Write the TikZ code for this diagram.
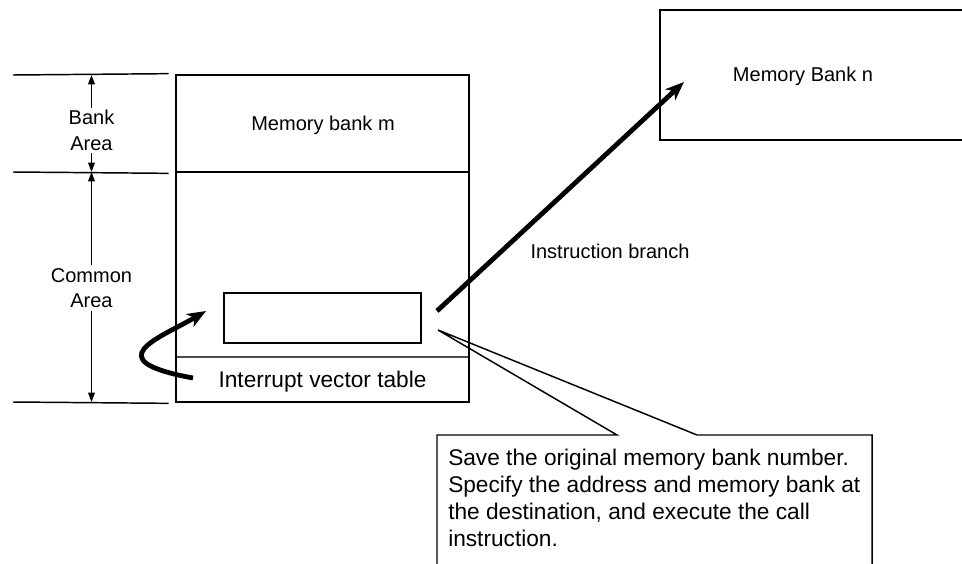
\documentclass[tikz,border=0pt]{standalone}
\usepackage{fontspec}
\setmainfont{Liberation Sans}
\usetikzlibrary{arrows.meta, positioning}
\tikzset
{
    box/.style={draw, line width=2pt, inner sep=0pt}, % outlined memory areas
    dimline/.style={line width=1.1pt},
    dimarrow/.style={-{Triangle[length=7pt,width=5pt]}, line width=1.1pt},
    bigarrow/.style={-{Stealth[length=14pt,width=11pt,inset=4pt]}, line width=3.6pt},
    lbl/.style={font=\fontsize{15}{19}\selectfont, inner sep=0pt},
    dimlbl/.style={font=\fontsize{15}{19}\selectfont, inner sep=2pt, align=center},
}

\begin{document}
\begin{tikzpicture}[x=0.75pt, y=-0.75pt]
    \useasboundingbox (0,0) rectangle (962,563);
    \clip (0,0) rectangle (962,563);

    % memory bank m and common area
    \node[draw, line width=0.8pt, black!70, minimum width=219.75pt, minimum height=33.75pt] (ivt) at (322.5,379.5) {};
    \node[box, minimum width=219.75pt, minimum height=72.75pt] (bankm) at (322.5,123.5) {};
    \node[box, minimum width=219.75pt, minimum height=172.5pt] (common) at (322.5,287) {};
    \node[box, line width=2.2pt, minimum width=147.75pt, minimum height=37.5pt] (vecbox) at (322.5,318) {};
    \node[lbl, anchor=base] (bankmtxt) at (323,131) {Memory bank m};
    \node[lbl, font=\fontsize{17}{21}\selectfont, anchor=base] (ivttxt) at (322.5,387) {Interrupt vector table};

    % memory bank n
    \node[box, line width=1.9pt, minimum width=262.5pt, minimum height=97.5pt] (bankn) at (835,75) {};
    \node[lbl, anchor=base] (banktxtn) at (803,82) {Memory Bank n};

    % dimensions on the left
    \draw[dimline] (13,75) -- ([xshift=-4.5pt]bankm.north west);
    \draw[dimline] (13,172) -- ([xshift=-4.5pt]bankm.south west);
    \draw[dimline] (13,402) -- ([xshift=-4.5pt]common.south west);
    \coordinate (dtop) at (91.5,75);
    \coordinate (dmid) at (91.5,172);
    \coordinate (dbot) at (91.5,402);
    \node[dimlbl] (banktxt) at (91.5,130.5) {Bank\\Area};
    \node[dimlbl] (commontxt) at (91.5,288) {Common\\Area};
    \draw[dimarrow] (banktxt) -- (dtop);
    \draw[dimarrow] (banktxt) -- (dmid);
    \draw[dimarrow] (commontxt) -- (dmid);
    \draw[dimarrow] (commontxt) -- (dbot);

    % interrupt jump
    \coordinate (ivtsrc) at (193,378);
    \coordinate (ivttip) at (206,311);
    \draw[bigarrow] (ivtsrc) .. controls (95,360) and (160,338) .. (ivttip);

    % instruction branch
    \coordinate (brsrc) at (437,311);
    \coordinate (brtip) at (684,82);
    \draw[bigarrow] (brsrc) -- (brtip);
    \node[lbl, anchor=base] (brtxt) at (610,258) {Instruction branch};

    % callout
    \coordinate (calltip) at (438,330);
    \draw[line width=1.1pt] (437,435) -- (617,435) -- (calltip) -- (697,435) -- (872,435) -- (872,600) -- (437,600) -- cycle;
    \node[anchor=north west, align=left, inner sep=0pt, font=\fontsize{17}{20.25}\selectfont] (calltxt) at (448,449)
        {Save the original memory bank number.\\Specify the address and memory bank at\\the destination, and execute the call\\instruction.};
\end{tikzpicture}
\end{document}
